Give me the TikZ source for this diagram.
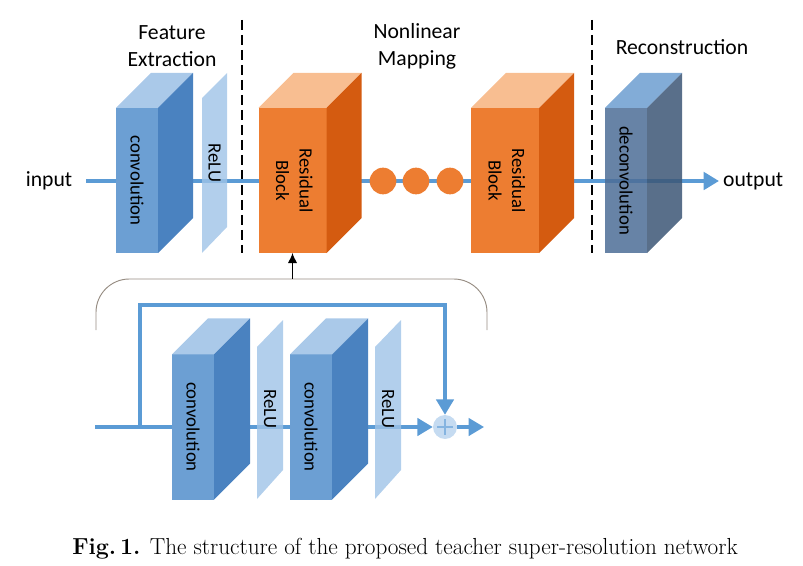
\documentclass[tikz,border=0pt]{standalone}
\usepackage{fontspec}
\newfontfamily\lblfont{Carlito}
\usetikzlibrary{arrows.meta,positioning}
\definecolor{convF}{HTML}{6C9FD3}
\definecolor{convT}{HTML}{AAC9E9}
\definecolor{convS}{HTML}{4A82C0}
\definecolor{reluC}{HTML}{9FC3E7}
\definecolor{resF}{HTML}{ED7D31}
\definecolor{resT}{HTML}{F8BE91}
\definecolor{resS}{HTML}{D45B10}
\definecolor{decF}{HTML}{4C6D96}
\definecolor{decT}{HTML}{6C9DD0}
\definecolor{decS}{HTML}{3C5675}
\definecolor{flowC}{HTML}{5B9BD5}
\definecolor{brkC}{HTML}{968C82}
% top and side faces of a block, #4 = depth
\newcommand{\blockfaces}[4]{
\fill[#2] (#1.north west) -- ++(#4,-#4) -- ([shift={(#4,-#4)}]#1.north east) -- (#1.north east) -- cycle;
\fill[#3] (#1.north east) -- ([shift={(#4,-#4)}]#1.north east) -- ([shift={(#4,-#4)}]#1.south east) -- (#1.south east) -- cycle;
}

\begin{document}
\begin{tikzpicture}[x=0.03cm, y=-0.03cm,
  lbl/.style={font=\lblfont\fontsize{16}{20}\selectfont},
  big/.style={font=\lblfont\fontsize{18.5}{23}\selectfont},
  head/.style={big, align=center},
  face/.style={lbl, inner sep=0pt, outer sep=0pt, minimum height=4.35cm},
  conv/.style={face, fill=convF, minimum width=1.26cm},
  res/.style={face, fill=resF, minimum width=2.04cm},
  deconv/.style={face, fill=decF, fill opacity=0.85, text opacity=1, minimum width=1.26cm},
  relu/.style={fill=reluC, fill opacity=0.8},
  flow/.style={draw=flowC, line width=0.12cm},
  thin flow/.style={draw=flowC, line width=0.1cm},
  tip/.style={-{Triangle[length=0.46cm, width=0.52cm]}},
  sep/.style={line width=1.3pt, dash pattern=on 8.5pt off 4.3pt},
  dot/.style={circle, fill=resF, inner sep=0pt, minimum size=0.8cm}]
\useasboundingbox (0,0) rectangle (803,566);

% headings
\node[head] (fe) at (172,46) {Feature\\Extraction};
\node[head] (nm) at (417,46) {Nonlinear\\Mapping};
\node[head] (rc) at (682,47) {Reconstruction};
\draw[sep] (242,20) -- (242,253);
\draw[sep] (592,20) -- (592,253);

% main path
\node[big] (in) at (49,181) {input};
\node[big, anchor=west] (out) at (719,181) {output};
\draw[flow, tip, shorten <=0.3cm] (in.east) -- (out.west);

\node[conv] (c1) at (137,180.5) {\rotatebox{-90}{convolution}};
\blockfaces{c1}{convT}{convS}{35}
\fill[relu] (202,253) -- (202,98) -- (227,73) -- (227,227) -- cycle;
\node[lbl, rotate=-90] (r1) at (214.5,163) {ReLU};

\node[res] (b1) at (292.5,180.5) {\rotatebox{-90}{\begin{tabular}{@{}c@{}}Residual\\Block\end{tabular}}};
\blockfaces{b1}{resT}{resS}{35}
\node[dot] (d1) at (383,181) {};
\node[dot] (d2) at (416,181) {};
\node[dot] (d3) at (450,181) {};
\node[res] (b2) at (505,180.5) {\rotatebox{-90}{\begin{tabular}{@{}c@{}}Residual\\Block\end{tabular}}};
\blockfaces{b2}{resT}{resS}{35}

\node[deconv] (dc) at (626,180.5) {\rotatebox{-90}{deconvolution}};
\blockfaces{dc}{decT, fill opacity=0.85}{decS, fill opacity=0.85}{35}

% inside a residual block
\coordinate (brk) at (292.5,279);
\draw[brkC, line width=0.8pt, rounded corners=1cm] (96,330) |- (brk) -| (487,330);
\draw[line width=1pt, -{Latex[length=0.3cm, width=0.28cm]}] (brk) -- (b1.south);

\coordinate (lin) at (95,427);
\coordinate (split) at (140,427);
\coordinate (lout) at (484,427);
\node[circle, fill=reluC, fill opacity=0.6, inner sep=0pt, minimum size=0.72cm] (plus) at (445,427) {};
\draw[thin flow, tip] (lin) -- (plus.west);
\draw[thin flow, tip] (split) -- ++(0,-122) -| (plus.north);
\draw[thin flow, tip] (plus.east) -- (lout);
\draw[flowC, line width=1.6pt, opacity=0.6] (plus.center) ++(-8,0) -- ++(16,0) (plus.center) ++(0,-8) -- ++(0,16);

\node[conv] (c2) at (193,427) {\rotatebox{-90}{convolution}};
\blockfaces{c2}{convT}{convS}{36}
\fill[relu] (257,499) -- (257,347) -- (283,320) -- (283,470) -- cycle;
\node[lbl, rotate=-90] (r2) at (270,409) {ReLU};
\node[conv] (c3) at (311,427) {\rotatebox{-90}{convolution}};
\blockfaces{c3}{convT}{convS}{36}
\fill[relu] (375,499) -- (375,347) -- (401,320) -- (401,470) -- cycle;
\node[lbl, rotate=-90] (r3) at (388,409) {ReLU};

\node[font=\fontsize{19.8}{23}\selectfont] (cap) at (405,549) {\textbf{Fig.\,1.} The structure of the proposed teacher super-resolution network};
\end{tikzpicture}
\end{document}
